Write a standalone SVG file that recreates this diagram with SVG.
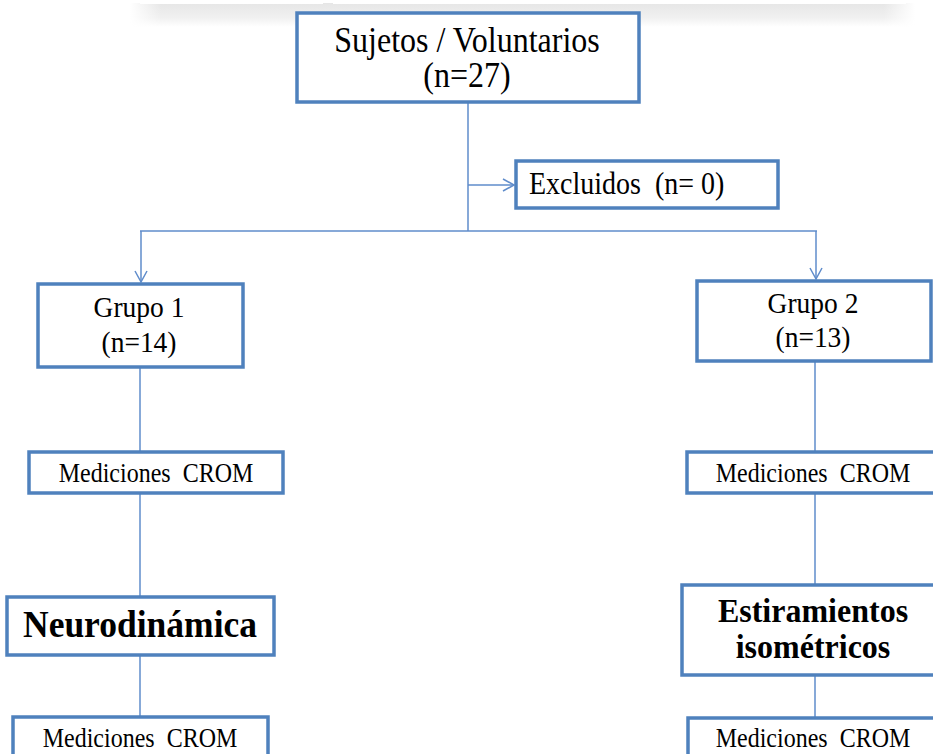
<svg xmlns="http://www.w3.org/2000/svg" width="933" height="754" viewBox="0 0 933 754">
<defs>
<linearGradient id="shadowV" x1="0" y1="0" x2="0" y2="1">
<stop offset="0" stop-color="#e6e6e6"/>
<stop offset="0.6" stop-color="#f0f0f0"/>
<stop offset="1" stop-color="#ffffff"/>
</linearGradient>
<linearGradient id="fadeH" x1="0" y1="0" x2="1" y2="0">
<stop offset="0" stop-color="#fff" stop-opacity="1"/>
<stop offset="0.04" stop-color="#fff" stop-opacity="0"/>
<stop offset="0.96" stop-color="#fff" stop-opacity="0"/>
<stop offset="1" stop-color="#fff" stop-opacity="1"/>
</linearGradient>
<marker id="arr" markerWidth="14" markerHeight="14" refX="12" refY="7" orient="auto" markerUnits="userSpaceOnUse">
<path d="M1,1 L12,7 L1,13" fill="none" stroke="#5f8ccb" stroke-width="1.5"/>
</marker>
<style>
.box{fill:#fff;stroke:#4f81bd;stroke-width:3.5}
.t{font-family:"Liberation Serif","Times New Roman",serif;fill:#000;text-anchor:middle}
.b{font-weight:bold}
.c{fill:none;stroke:#5f8ccb;stroke-width:1.5}
</style>
</defs>
<rect x="0" y="0" width="933" height="754" fill="#fff"/>
<g id="topshadow">
<rect x="130" y="3" width="785" height="24" fill="url(#shadowV)"/>
<rect x="130" y="3" width="785" height="24" fill="url(#fadeH)"/>
<rect x="140" y="0" width="183" height="4" fill="#fff"/>
<rect x="333" y="0" width="573" height="4" fill="#fff"/>
</g>
<g id="connectors">
<line class="c" x1="468" y1="103" x2="468" y2="231"/>
<line class="c" x1="468" y1="185" x2="514" y2="185" marker-end="url(#arr)"/>
<line class="c" x1="140" y1="231" x2="817" y2="231"/>
<line class="c" x1="141" y1="231" x2="141" y2="282" marker-end="url(#arr)"/>
<line class="c" x1="816" y1="231" x2="816" y2="279" marker-end="url(#arr)"/>
<line class="c" x1="140" y1="367" x2="140" y2="452"/>
<line class="c" x1="140" y1="493" x2="140" y2="597"/>
<line class="c" x1="140" y1="655" x2="140" y2="717"/>
<line class="c" x1="815" y1="361" x2="815" y2="452"/>
<line class="c" x1="815" y1="493" x2="815" y2="585"/>
<line class="c" x1="815" y1="675" x2="815" y2="718"/>
</g>
<g id="sujetos">
<rect class="box" x="297" y="13" width="342" height="89"/>
<text class="t" transform="translate(467,52) scale(1,1.1)" font-size="32">Sujetos / Voluntarios</text>
<text class="t" transform="translate(467,87) scale(1,1.1)" font-size="32">(n=27)</text>
</g>
<g id="excluidos">
<rect class="box" x="516" y="161" width="262" height="47"/>
<text class="t" transform="translate(529,194) scale(1,1.1)" font-size="28" style="text-anchor:start" xml:space="preserve">Excluidos  (n= 0)</text>
</g>
<g id="grupo1">
<rect class="box" x="38" y="284" width="205" height="83"/>
<text class="t" transform="translate(139,317) scale(1,1.1)" font-size="27.5">Grupo 1</text>
<text class="t" transform="translate(139,352) scale(1,1.1)" font-size="27.5">(n=14)</text>
</g>
<g id="grupo2">
<rect class="box" x="697" y="281" width="234" height="80"/>
<text class="t" transform="translate(813,313) scale(1,1.1)" font-size="27.5">Grupo 2</text>
<text class="t" transform="translate(813,347) scale(1,1.1)" font-size="27.5">(n=13)</text>
</g>
<g id="med1">
<rect class="box" x="29" y="452" width="254" height="41"/>
<text class="t" transform="translate(156,482) scale(1,1.1)" font-size="24" xml:space="preserve">Mediciones  CROM</text>
</g>
<g id="med2">
<rect class="box" x="687" y="452" width="260" height="41"/>
<text class="t" transform="translate(813,482) scale(1,1.1)" font-size="24" xml:space="preserve">Mediciones  CROM</text>
</g>
<g id="neuro">
<rect class="box" x="7" y="597" width="267" height="58"/>
<text class="t b" transform="translate(140,637) scale(1,1.08)" font-size="35.5">Neurodinámica</text>
</g>
<g id="estir">
<rect class="box" x="682" y="585" width="265" height="90"/>
<text class="t b" transform="translate(813,622) scale(1,1.08)" font-size="32">Estiramientos</text>
<text class="t b" transform="translate(813,658) scale(1,1.08)" font-size="32">isométricos</text>
</g>
<g id="med3">
<rect class="box" x="13" y="717" width="255" height="50"/>
<text class="t" transform="translate(140,747) scale(1,1.1)" font-size="24" xml:space="preserve">Mediciones  CROM</text>
</g>
<g id="med4">
<rect class="box" x="688" y="718" width="260" height="50"/>
<text class="t" transform="translate(813,747) scale(1,1.1)" font-size="24" xml:space="preserve">Mediciones  CROM</text>
</g>
</svg>
